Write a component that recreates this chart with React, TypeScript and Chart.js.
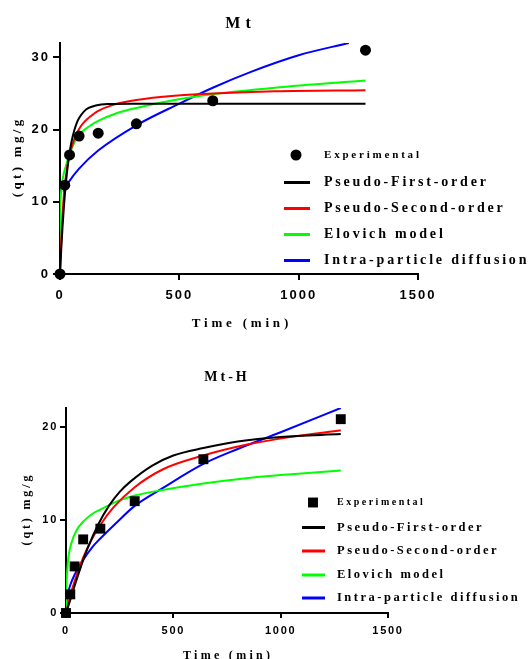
import React, { useEffect, useRef } from 'react';
import { Chart, registerables } from 'chart.js';

Chart.register(...registerables);

// ---------- legend / series names ----------
const SERIES_LABELS = ['Experimental', 'Pseudo-First-order', 'Pseudo-Second-order', 'Elovich model', 'Intra-particle diffusion'];
const SERIES_COLORS = ['#000000', '#000000', '#ff0000', '#00ff00', '#0000ff'];

// ---------- tick values ----------
const X_TICK_STEP = 500;
const X_MAX = 1500;
const Y_TICK_STEP = 10;

// ---------- Mt panel ----------
const MT_TITLE = 'Mt';
const MT_Y_MAX = 32;
const MT_EXP_TIME = [0, 20, 40, 80, 160, 320, 640, 1280];
const MT_EXP_QT = [0, 12.3, 16.5, 19.1, 19.5, 20.8, 24.0, 31.0];

const MT_PFO_TIME = [0, 5, 10, 15, 20, 30, 40, 50, 60, 70, 80, 100, 120, 150, 200, 300, 1280];
const MT_PFO_QT = [0, 3.3, 6.2, 8.7, 10.9, 14.3, 16.8, 18.6, 19.9, 20.9, 21.6, 22.5, 23.0, 23.35, 23.55, 23.6, 23.6];

const MT_PSO_TIME = [0, 5, 10, 15, 20, 30, 40, 60, 80, 100, 130, 160, 220, 320, 480, 640, 900, 1280];
const MT_PSO_QT = [0, 4.5, 7.9, 10.4, 12.2, 14.8, 16.5, 18.7, 20.1, 21.0, 21.9, 22.6, 23.4, 24.1, 24.7, 25.0, 25.3, 25.45];

const MT_ELO_TIME = [0, 1, 3, 7, 15, 25, 40, 60, 80, 120, 160, 240, 320, 480, 640, 900, 1280];
const MT_ELO_QT = [0, 8.5, 10.6, 12.2, 13.8, 15.0, 16.6, 18.2, 19.3, 20.4, 21.2, 22.3, 23.0, 24.1, 24.9, 25.8, 26.8];

const MT_IPD_TIME = [15, 20, 40, 80, 160, 320, 500, 640, 800, 1000, 1210];
const MT_IPD_QT = [11.3, 11.8, 12.9, 14.6, 17.1, 20.6, 23.6, 25.8, 28.0, 30.3, 32.0];

// ---------- Mt-H panel ----------
const MTH_TITLE = 'Mt-H';
const MTH_Y_MAX = 22;
const MTH_EXP_TIME = [0, 20, 40, 80, 160, 320, 640, 1280];
const MTH_EXP_QT = [0, 2.0, 5.0, 7.9, 9.05, 12.0, 16.5, 20.8];

const MTH_PFO_TIME = [0, 20, 40, 70, 100, 150, 200, 250, 300, 400, 500, 640, 800, 1000, 1280];
const MTH_PFO_QT = [0, 1.4, 2.9, 5.0, 6.9, 9.5, 11.5, 13.0, 14.1, 15.8, 16.9, 17.7, 18.4, 18.9, 19.2];

const MTH_PSO_TIME = [0, 20, 40, 80, 120, 160, 220, 320, 450, 640, 850, 1050, 1280];
const MTH_PSO_QT = [0, 1.85, 3.4, 5.95, 7.9, 9.45, 11.3, 13.5, 15.4, 16.9, 18.1, 18.9, 19.6];

const MTH_ELO_TIME = [0, 1, 3, 6, 12, 25, 50, 80, 120, 160, 240, 320, 450, 640, 850, 1050, 1280];
const MTH_ELO_QT = [0, 1.8, 3.4, 4.7, 6.1, 7.5, 8.9, 9.8, 10.6, 11.1, 12.0, 12.6, 13.2, 13.9, 14.5, 14.9, 15.3];

const MTH_IPD_TIME = [0, 5, 10, 20, 40, 80, 120, 160, 240, 320, 450, 640, 800, 1000, 1280];
const MTH_IPD_QT = [0.3, 1.7, 2.2, 3.0, 4.1, 5.7, 7.0, 8.0, 9.8, 11.5, 13.4, 16.0, 17.6, 19.4, 22.0];

const X_TITLE = 'Time (min)';
const Y_TITLE = '(qt) mg/g';

const W = 529;
const SERIF = "'Liberation Serif', 'Times New Roman', serif";
const SANS = "'Liberation Sans', Arial, sans-serif";

const zip = (xs: number[], ys: number[]) => xs.map((x, i) => ({ x, y: ys[i] }));

const TOP_PANEL = {
  height: 330,
  area: { left: 60, top: 43, right: 418, bottom: 274 },
  yMax: MT_Y_MAX,
  tickSize: 13, tickSpacing: '2px', yTickLen: 7, yTickPad: 3, xTickLen: 6, xTickPad: 8,
  title: { text: MT_TITLE, x: 238, y: 28, size: 16, spacing: 5 },
  xTitle: { text: X_TITLE, x: 240, y: 327, size: 13, spacing: 3.8 },
  yTitle: { text: Y_TITLE, x: 18, y: 158.5, size: 13, spacing: 3.3 },
  legend: { markerX: 296, lineX1: 284, lineX2: 310, textX: 324, rows: [155, 182.5, 208.5, 234.5, 260.5], expSize: 11, size: 14, spacing: 2.8 },
  marker: 'circle', markerRadius: 5.5,
  exp: zip(MT_EXP_TIME, MT_EXP_QT),
  curves: [zip(MT_PFO_TIME, MT_PFO_QT), zip(MT_PSO_TIME, MT_PSO_QT), zip(MT_ELO_TIME, MT_ELO_QT), zip(MT_IPD_TIME, MT_IPD_QT)],
};

const BOTTOM_PANEL = {
  height: 329,
  area: { left: 66, top: 78, right: 388, bottom: 283 },
  yMax: MTH_Y_MAX,
  tickSize: 11, tickSpacing: '1.7px', yTickLen: 6, yTickPad: 2, xTickLen: 5, xTickPad: 6,
  title: { text: MTH_TITLE, x: 225.5, y: 51, size: 14, spacing: 3 },
  xTitle: { text: X_TITLE, x: 226.5, y: 329, size: 12, spacing: 3.3 },
  yTitle: { text: Y_TITLE, x: 27, y: 180.5, size: 12, spacing: 2.85 },
  legend: { markerX: 313, lineX1: 302, lineX2: 325, textX: 337, rows: [172.5, 197.5, 221, 245, 268], expSize: 10, size: 12.5, spacing: 2.5 },
  marker: 'rect', markerRadius: 7,
  exp: zip(MTH_EXP_TIME, MTH_EXP_QT),
  curves: [zip(MTH_PFO_TIME, MTH_PFO_QT), zip(MTH_PSO_TIME, MTH_PSO_QT), zip(MTH_ELO_TIME, MTH_ELO_QT), zip(MTH_IPD_TIME, MTH_IPD_QT)],
};

type Panel = typeof TOP_PANEL;

function spacedText(ctx: CanvasRenderingContext2D, text: string, x: number, y: number, font: string, spacing: number, align: CanvasTextAlign, baseline: CanvasTextBaseline) {
  ctx.save();
  ctx.font = font;
  (ctx as any).letterSpacing = spacing + 'px';
  ctx.textAlign = align;
  ctx.textBaseline = baseline;
  ctx.fillStyle = '#000';
  const dx = align === 'center' ? spacing / 2 : 0;
  ctx.fillText(text, x + dx, y);
  ctx.restore();
}

function makeDeco(p: Panel) {
  return {
    id: 'deco',
    beforeDraw(chart: any) {
      (chart.ctx as any).letterSpacing = p.tickSpacing;
    },
    afterDraw(chart: any) {
      const ctx: CanvasRenderingContext2D = chart.ctx;
      spacedText(ctx, p.title.text, p.title.x, p.title.y, `bold ${p.title.size}px ${SERIF}`, p.title.spacing, 'center', 'alphabetic');
      spacedText(ctx, p.xTitle.text, p.xTitle.x, p.xTitle.y, `bold ${p.xTitle.size}px ${SERIF}`, p.xTitle.spacing, 'center', 'alphabetic');
      ctx.save();
      ctx.translate(p.yTitle.x, p.yTitle.y);
      ctx.rotate(-Math.PI / 2);
      spacedText(ctx, p.yTitle.text, 0, 0, `bold ${p.yTitle.size}px ${SERIF}`, p.yTitle.spacing, 'center', 'middle');
      ctx.restore();

      const L = p.legend;
      SERIES_LABELS.forEach((label, i) => {
        const y = L.rows[i];
        ctx.save();
        ctx.fillStyle = SERIES_COLORS[i];
        ctx.strokeStyle = SERIES_COLORS[i];
        if (i === 0) {
          if (p.marker === 'circle') {
            ctx.beginPath();
            ctx.arc(L.markerX, y, p.markerRadius, 0, Math.PI * 2);
            ctx.fill();
          } else {
            const s = p.markerRadius * Math.SQRT1_2;
            ctx.fillRect(L.markerX - s, y - s, 2 * s, 2 * s);
          }
        } else {
          ctx.lineWidth = 3;
          ctx.beginPath();
          ctx.moveTo(L.lineX1, y);
          ctx.lineTo(L.lineX2, y);
          ctx.stroke();
        }
        ctx.restore();
        spacedText(ctx, label, L.textX, y, `bold ${i === 0 ? L.expSize : L.size}px ${SERIF}`, L.spacing, 'left', 'middle');
      });
    },
  };
}

function buildChart(canvas: HTMLCanvasElement, p: Panel) {
  const datasets: any[] = [
    {
      label: SERIES_LABELS[0],
      data: p.exp,
      showLine: false,
      pointStyle: p.marker,
      pointRadius: p.markerRadius,
      pointBorderWidth: 0,
      backgroundColor: '#000',
      borderColor: '#000',
      clip: false,
    },
  ];
  p.curves.forEach((c, i) => {
    datasets.push({
      label: SERIES_LABELS[i + 1],
      data: c,
      showLine: true,
      borderColor: SERIES_COLORS[i + 1],
      backgroundColor: SERIES_COLORS[i + 1],
      borderWidth: 2,
      pointRadius: 0,
      cubicInterpolationMode: 'monotone',
      fill: false,
    });
  });

  const tickFont = { family: SANS, size: p.tickSize, weight: 'bold' as const };
  const grid = (len: number) => ({
    display: true,
    drawOnChartArea: false,
    drawTicks: true,
    tickLength: len,
    tickColor: '#000',
    tickWidth: 2,
    color: '#000',
    lineWidth: 2,
  });
  const plain = (v: any) => String(v);

  return new Chart(canvas, {
    type: 'scatter',
    data: { datasets },
    options: {
      animation: false,
      responsive: false,
      maintainAspectRatio: false,
      devicePixelRatio: 1,
      events: [],
      layout: { padding: { left: 0, top: p.area.top, right: W - p.area.right, bottom: 0 } },
      plugins: { legend: { display: false }, title: { display: false }, tooltip: { enabled: false } },
      scales: {
        x: {
          type: 'linear',
          min: 0,
          max: X_MAX,
          border: { display: true, color: '#000', width: 2 },
          grid: grid(p.xTickLen),
          ticks: { stepSize: X_TICK_STEP, color: '#000', font: tickFont, padding: p.xTickPad, maxRotation: 0, includeBounds: false, callback: plain },
          afterFit: (s: any) => { s.height = p.height - p.area.bottom; },
        },
        y: {
          type: 'linear',
          min: 0,
          max: p.yMax,
          border: { display: true, color: '#000', width: 2 },
          grid: grid(p.yTickLen),
          ticks: { stepSize: Y_TICK_STEP, color: '#000', font: tickFont, padding: p.yTickPad, includeBounds: false, callback: plain },
          afterFit: (s: any) => { s.width = p.area.left; },
        },
      },
    } as any,
    plugins: [makeDeco(p)],
  });
}

export default function App() {
  const topRef = useRef<HTMLCanvasElement>(null);
  const botRef = useRef<HTMLCanvasElement>(null);

  useEffect(() => {
    const c1 = buildChart(topRef.current!, TOP_PANEL);
    const c2 = buildChart(botRef.current!, BOTTOM_PANEL);
    return () => {
      c1.destroy();
      c2.destroy();
    };
  }, []);

  return (
    <div style={{ position: 'absolute', left: 0, top: 0, width: W, height: 659, background: '#fff' }}>
      <canvas ref={topRef} width={W} height={TOP_PANEL.height} style={{ position: 'absolute', left: 0, top: 0, width: W, height: TOP_PANEL.height }} />
      <canvas ref={botRef} width={W} height={BOTTOM_PANEL.height} style={{ position: 'absolute', left: 0, top: 330, width: W, height: BOTTOM_PANEL.height }} />
    </div>
  );
}
